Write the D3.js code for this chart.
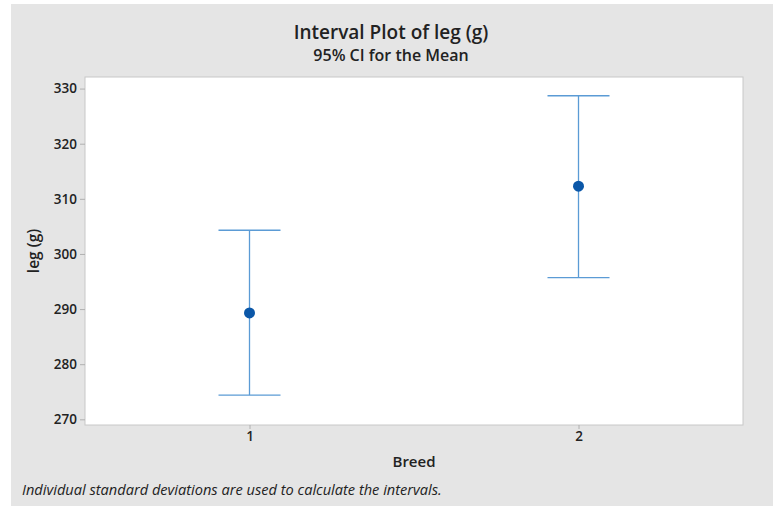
<!DOCTYPE html>
<html>
<head>
<meta charset="utf-8">
<script src="https://cdn.jsdelivr.net/npm/d3@7"></script>
<style>
  body { margin: 0; background: #fff; }
  text { font-family: "Open Sans", "Noto Sans", sans-serif; fill: #222; }
</style>
</head>
<body>
<div id="chart"></div>
<script>
// data
var breeds = ["1", "2"];
var means = [289.3, 312.3];
var upper = [304.3, 328.7];
var lower = [274.4, 295.7];
var yTicks = [270, 280, 290, 300, 310, 320, 330];

var W = 778, H = 508;
var pLeft = 85, pRight = 743, pTop = 77, pBottom = 425;

var svg = d3.select("#chart").append("svg").attr("width", W).attr("height", H);

// gray panel
svg.append("rect").attr("x", 11).attr("y", 4).attr("width", 762).attr("height", 502).attr("fill", "#e5e5e5");

var x = d3.scaleLinear().domain([0.5, 2.5]).range([pLeft, pRight]);
var y = d3.scaleLinear().domain([268.97, 332.1]).range([pBottom, pTop]);

// plot area
svg.append("rect").attr("x", pLeft).attr("y", pTop).attr("width", pRight - pLeft).attr("height", pBottom - pTop)
  .attr("fill", "#fff").attr("stroke", "#c8c8c8").attr("stroke-width", 1);

// y axis
var yAxis = svg.append("g").attr("transform", "translate(" + pLeft + ",0)")
  .call(d3.axisLeft(y).tickValues(yTicks).tickSize(5).tickPadding(3));
yAxis.select(".domain").remove();
yAxis.selectAll("line").attr("stroke", "#b0b0b0");
yAxis.selectAll("text").attr("font-size", 13.5).attr("font-weight", 600).attr("fill", "#333")
  .style("font-family", '"Open Sans", sans-serif');

// x axis
var xAxis = svg.append("g").attr("transform", "translate(0," + pBottom + ")")
  .call(d3.axisBottom(x).tickValues([1, 2]).tickFormat(function(d) { return breeds[d - 1]; }).tickSize(4).tickPadding(2));
xAxis.select(".domain").remove();
xAxis.selectAll("line").attr("stroke", "#b0b0b0");
xAxis.selectAll("text").attr("font-size", 13.5).attr("font-weight", 600).attr("fill", "#333")
  .style("font-family", '"Open Sans", sans-serif');

// intervals
var lineColor = "#5b9bd5";
var capW = 31;
var g = svg.append("g");
breeds.forEach(function(b, i) {
  var cx = x(i + 1);
  g.append("line").attr("x1", cx).attr("x2", cx).attr("y1", y(upper[i])).attr("y2", y(lower[i]))
    .attr("stroke", lineColor).attr("stroke-width", 1.3);
  g.append("line").attr("x1", cx - capW).attr("x2", cx + capW).attr("y1", y(upper[i])).attr("y2", y(upper[i]))
    .attr("stroke", lineColor).attr("stroke-width", 1.3);
  g.append("line").attr("x1", cx - capW).attr("x2", cx + capW).attr("y1", y(lower[i])).attr("y2", y(lower[i]))
    .attr("stroke", lineColor).attr("stroke-width", 1.3);
  g.append("circle").attr("cx", cx).attr("cy", y(means[i])).attr("r", 5.5).attr("fill", "#0b57a8");
});

// titles
svg.append("text").attr("x", 391).attr("y", 39).attr("text-anchor", "middle")
  .attr("font-size", 19).attr("font-weight", 600).text("Interval Plot of leg (g)");
svg.append("text").attr("x", 391).attr("y", 61).attr("text-anchor", "middle")
  .attr("font-size", 16).attr("font-weight", 600).text("95% CI for the Mean");

svg.append("text").attr("x", (pLeft + pRight) / 2).attr("y", 467).attr("text-anchor", "middle")
  .attr("font-size", 15).attr("font-weight", 600).text("Breed");

svg.append("text").attr("transform", "translate(39," + ((pTop + pBottom) / 2) + ") rotate(-90)")
  .attr("text-anchor", "middle").attr("font-size", 15.5).attr("font-weight", 600).text("leg (g)");

svg.append("text").attr("x", 22).attr("y", 495).attr("font-size", 14.6).attr("font-style", "italic")
  .attr("fill", "#333").text("Individual standard deviations are used to calculate the intervals.");
</script>
</body>
</html>
